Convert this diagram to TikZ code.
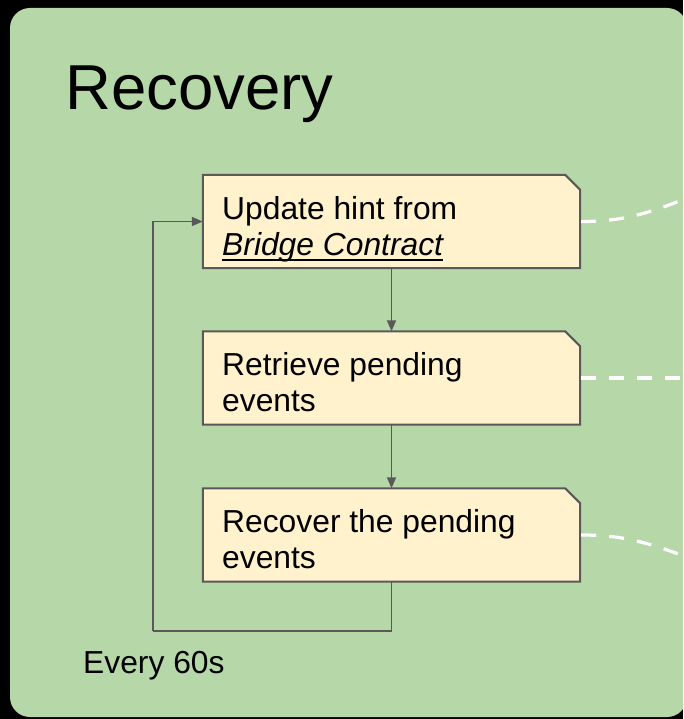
\documentclass[tikz,border=0pt]{standalone}
\usepackage{fontspec}
\setmainfont{Liberation Sans}
\usetikzlibrary{arrows.meta}
\definecolor{bggreen}{HTML}{B6D7A8}
\definecolor{boxfill}{HTML}{FFF2CC}
\definecolor{edgegray}{HTML}{595959}
\tikzset{
  stepbox/.style={draw=none, minimum width=377pt, minimum height=93pt, inner sep=0pt},
  boxline/.style={draw=edgegray, line width=2pt, fill=boxfill, line join=miter},
  txt/.style={inner sep=0pt, anchor=base west, font=\fontsize{31.8pt}{37pt}\selectfont},
  arr/.style={draw=edgegray, line width=1.8pt, -{Triangle[length=11pt,width=9pt]}},
  plain/.style={draw=edgegray, line width=1.8pt},
  wdash/.style={draw=white, line width=3.2pt, dash pattern=on 15pt off 13pt}
}
\begin{document}
\begin{tikzpicture}[x=1pt,y=-1pt]
\useasboundingbox (0,0) rectangle (683,719);
\clip (0,0) rectangle (683,719);
\fill[black] (0,0) rectangle (683,719);
\fill[bggreen, rounded corners=20pt] (10,8) rectangle (687,717);

\node[inner sep=0pt, anchor=base west, font=\fontsize{63.5pt}{70pt}\selectfont] (title) at (65,110) {Recovery};

\node[stepbox] (b1) at (391.5,221.5) {};
\node[stepbox] (b2) at (391.5,378) {};
\node[stepbox] (b3) at (391.5,535) {};

\foreach \b in {b1,b2,b3}{
  \path[boxline] (\b.south west) -- (\b.north west) -- ([xshift=-15pt]\b.north east)
     -- ([yshift=-15pt]\b.north east) -- (\b.south east) -- cycle;
}

\node[txt] (t1a) at (222,219) {Update hint from};
\node[txt] (t1b) at (222,255) {\itshape Bridge Contract};
\draw[line width=2pt] ([yshift=-5pt]t1b.base west) -- ([yshift=-5pt]t1b.base east);
\node[txt] (t2a) at (222,375) {Retrieve pending};
\node[txt] (t2b) at (222,411) {events};
\node[txt] (t3a) at (222,532) {Recover the pending};
\node[txt] (t3b) at (222,568) {events};

\node[txt] (every) at (83,673) {Every 60s};

\draw[arr] (b1.south) -- (b2.north);
\draw[arr] (b2.south) -- (b3.north);
\coordinate (loopA) at (153,631);
\draw[plain] (b3.south) |- (loopA);
\draw[arr] (loopA) |- (b1.west);

\coordinate (d1) at (700,193);
\coordinate (d2) at (700,378);
\coordinate (d3) at (700,562);
\draw[wdash] ([xshift=1pt]b1.east) .. controls (625,221.5) and (650,213) .. (d1);
\draw[wdash] ([xshift=1pt]b2.east) -- (d2);
\draw[wdash] ([xshift=1pt]b3.east) .. controls (625,535) and (650,543) .. (d3);
\end{tikzpicture}
\end{document}
